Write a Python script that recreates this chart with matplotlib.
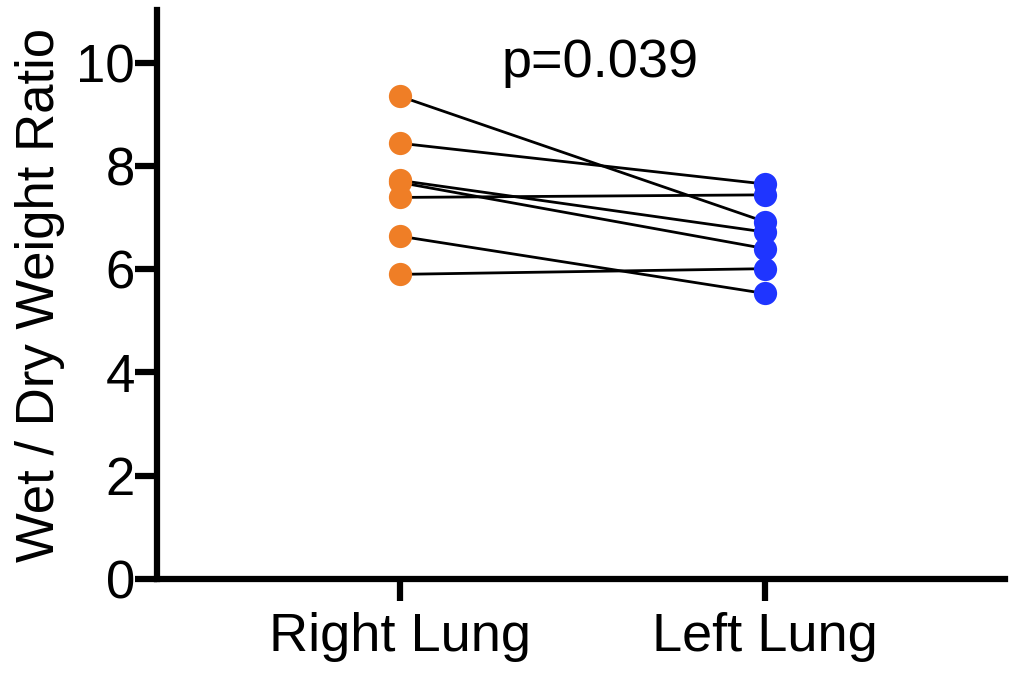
import matplotlib
matplotlib.use("Agg")
import matplotlib.pyplot as plt

plt.rcParams['font.family'] = ['Liberation Sans', 'DejaVu Sans']

categories = ["Right Lung", "Left Lung"]
right_lung = [9.35, 8.44, 7.72, 7.68, 7.39, 6.64, 5.90]
left_lung = [6.92, 7.65, 6.72, 6.40, 7.44, 5.53, 6.01]
y_ticks = [0, 2, 4, 6, 8, 10]
p_text = "p=0.039"

fig = plt.figure(figsize=(10.09, 6.75), dpi=100)
ax = fig.add_axes([157/1009, 1 - 579/675, (1005-157)/1009, (579-10)/675])

xs = [0, 1]
for r, l in zip(right_lung, left_lung):
    ax.plot(xs, [r, l], color='black', lw=2.0, zorder=2)
ax.scatter([0]*len(right_lung), right_lung, s=280, color='#EF7E26', zorder=3, linewidths=0)
ax.scatter([1]*len(left_lung), left_lung, s=280, color='#1F35FF', zorder=3, linewidths=0)

ax.set_xlim(-0.665, 1.658)
ax.set_ylim(0, 11.02)
ax.set_xticks(xs)
ax.set_xticklabels(categories)
ax.set_yticks(y_ticks)
ax.set_yticklabels([str(t) for t in y_ticks])
ax.tick_params(axis='both', labelsize=39, length=16, width=4.5, direction='out')
ax.tick_params(axis='x', pad=8)
ax.tick_params(axis='y', pad=0, labelsize=38)
for side in ['top', 'right']:
    ax.spines[side].set_visible(False)
for side in ['left', 'bottom']:
    ax.spines[side].set_linewidth(4.5)
ax.set_ylabel("Wet / Dry Weight Ratio", fontsize=38, labelpad=8)
ax.text(0.55, 10.0, p_text, fontsize=39, ha='center', va='center')

fig.savefig("out.png", dpi=100)
